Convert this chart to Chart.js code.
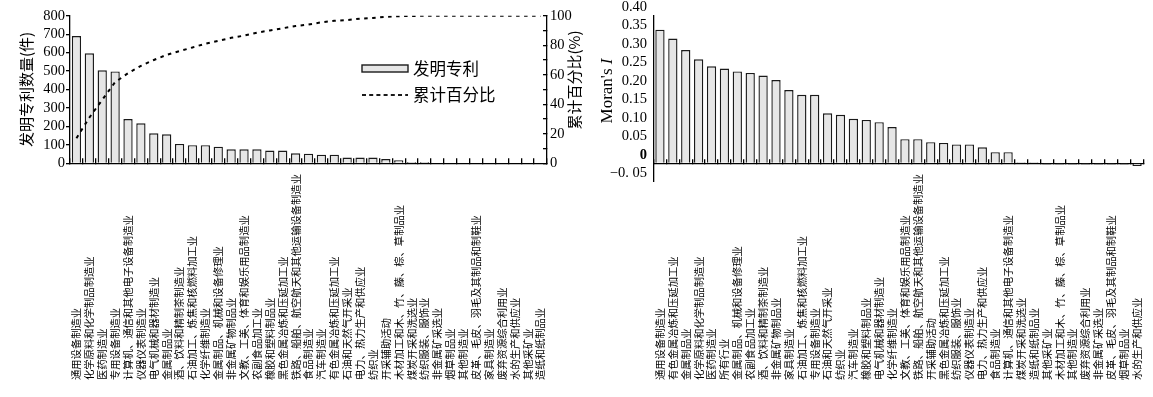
<!DOCTYPE html>
<html>
<head>
<meta charset="utf-8">
<script src="https://cdn.jsdelivr.net/npm/chart.js@4.4.1/dist/chart.umd.min.js"></script>
<style>
  html, body { margin: 0; padding: 0; background: #fff; }
  body { width: 1153px; height: 397px; position: relative; overflow: hidden; }
  #cA { position: absolute; left: 0; top: 0; }
  #cB { position: absolute; left: 592px; top: 0; }
</style>
</head>
<body>
<canvas id="cA" width="592" height="397"></canvas>
<canvas id="cB" width="561" height="397"></canvas>
<script>
// ---------------- data: left chart (patents) ----------------
const PATENT_CATEGORIES = [
  '通用设备制造业', '化学原料和化学制品制造业', '医药制造业', '专用设备制造业',
  '计算机、通信和其他电子设备制造业', '仪器仪表制造业', '电气机械和器材制造业', '金属制品业',
  '酒、饮料和精制茶制造业', '石油加工、炼焦和核燃料加工业', '化学纤维制造业', '金属制品、机械和设备修理业',
  '非金属矿物制品业', '文教、工美、体育和娱乐用品制造业', '农副食品加工业', '橡胶和塑料制品业',
  '黑色金属冶炼和压延加工业', '铁路、船舶、航空航天和其他运输设备制造业', '食品制造业', '汽车制造业',
  '有色金属冶炼和压延加工业', '石油和天然气开采业', '电力、热力生产和供应业', '纺织业',
  '开采辅助活动', '木材加工和木、竹、藤、棕、草制品业', '煤炭开采和洗选业', '纺织服装、服饰业',
  '非金属矿采选业', '烟草制品业', '其他制造业', '皮革、毛皮、羽毛及其制品和制鞋业',
  '家具制造业', '废弃资源综合利用业', '水的生产和供应业', '其他采矿业', '造纸和纸制品业'
];
const PATENT_COUNTS = [
  690, 596, 504, 498, 240, 217, 163, 157, 105, 98, 98, 90, 76, 76, 76, 69, 69, 54, 52,
  47, 47, 31, 31, 31, 23, 16, 7, 7, 0, 0, 0, 0, 0, 0, 0, 0, 0
];
const CUMULATIVE_PCT = [
  17, 31, 43, 55, 61, 66, 70, 73.5, 76, 78.5, 81, 83, 85, 86.5, 88.5, 90, 91.5, 93, 94,
  95.5, 96.5, 97, 98, 98.5, 99.3, 99.7, 99.8, 100, 100, 100, 100, 100, 100, 100, 100, 100, 100
];
const PATENT_LABEL = '发明专利';
const CUM_LABEL = '累计百分比';
const LEFT_Y_TITLE = '发明专利数量(件)';
const RIGHT_Y_TITLE = '累计百分比(%)';

// ---------------- data: right chart (Moran's I) ----------------
const MORAN_CATEGORIES = [
  '通用设备制造业', '有色金属冶炼和压延加工业', '金属制品业', '化学原料和化学制品制造业',
  '医药制造业', '所有行业', '金属制品、机械和设备修理业', '农副食品加工业',
  '酒、饮料和精制茶制造业', '非金属矿物制品业', '家具制造业', '石油加工、炼焦和核燃料加工业',
  '专用设备制造业', '石油和天然气开采业', '纺织业', '汽车制造业',
  '橡胶和塑料制品业', '电气机械和器材制造业', '化学纤维制造业', '文教、工美、体育和娱乐用品制造业',
  '铁路、船舶、航空航天和其他运输设备制造业', '开采辅助活动', '黑色金属冶炼和压延加工业', '纺织服装、服饰业',
  '仪器仪表制造业', '电力、热力生产和供应业', '食品制造业', '计算机、通信和其他电子设备制造业',
  '煤炭开采和洗选业', '造纸和纸制品业', '其他采矿业', '木材加工和木、竹、藤、棕、草制品业',
  '其他制造业', '废弃资源综合利用业', '非金属矿采选业', '皮革、毛皮、羽毛及其制品和制鞋业',
  '烟草制品业', '水的生产和供应业'
];
const MORAN_VALUES = [
  0.361, 0.337, 0.306, 0.281, 0.262, 0.256, 0.248, 0.244, 0.237, 0.225,
  0.198, 0.185, 0.185, 0.135, 0.131, 0.120, 0.117, 0.111, 0.098, 0.065,
  0.065, 0.057, 0.055, 0.051, 0.051, 0.043, 0.030, 0.030, 0.003, 0.003,
  -0.003, -0.003, -0.003, -0.003, -0.003, -0.003, -0.003, -0.007
];
const MORAN_TITLE_MAIN = "Moran's ";
const MORAN_TITLE_ITALIC = 'I';

// ---------------- styles ----------------
const BAR_FILL = '#e6e6e6';
const BAR_EDGE = '#1a1a1a';
const CJK = '"Noto Sans CJK SC", "Noto Sans", sans-serif';
const SERIF = '"Liberation Serif", "DejaVu Serif", serif';
Chart.defaults.color = '#000';
Chart.defaults.font.family = SERIF;

function categoryLabels(id, bottomY) {
  return {
    id,
    afterDraw(chart) {
      const ctx = chart.ctx, xs = chart.scales.x;
      ctx.save();
      ctx.font = '10.3px ' + CJK;
      ctx.fillStyle = '#000';
      ctx.textAlign = 'left';
      ctx.textBaseline = 'middle';
      chart.data.labels.forEach((lab, i) => {
        const x = xs.getPixelForValue(i);
        ctx.save();
        ctx.translate(x, bottomY);
        ctx.rotate(-Math.PI / 2);
        ctx.fillText(lab, 0, 0);
        ctx.restore();
      });
      ctx.restore();
    }
  };
}

const legendA = {
  id: 'legendA',
  afterDraw(chart) {
    const ctx = chart.ctx;
    const ds = chart.data.datasets;
    ctx.save();
    ctx.fillStyle = BAR_FILL;
    ctx.fillRect(362, 65, 46, 7);
    ctx.strokeStyle = BAR_EDGE;
    ctx.lineWidth = 1.4;
    ctx.strokeRect(362, 65, 46, 7);
    ctx.beginPath();
    ctx.setLineDash([4, 3.2]);
    ctx.lineWidth = 2;
    ctx.moveTo(362, 95);
    ctx.lineTo(408, 95);
    ctx.stroke();
    ctx.setLineDash([]);
    ctx.fillStyle = '#000';
    ctx.font = '16.5px ' + CJK;
    ctx.textAlign = 'left';
    ctx.textBaseline = 'middle';
    ctx.fillText(ds[1].label, 413, 68.5);
    ctx.fillText(ds[0].label, 413, 95);
    ctx.font = '15px ' + CJK;
    ctx.textAlign = 'center';
    ctx.translate(574, 80);
    ctx.rotate(-Math.PI / 2);
    ctx.fillText(RIGHT_Y_TITLE, 0, 0);
    ctx.restore();
  }
};

const moranTitle = {
  id: 'moranTitle',
  afterDraw(chart) {
    const ctx = chart.ctx;
    ctx.save();
    ctx.translate(16, 91);
    ctx.rotate(-Math.PI / 2);
    ctx.fillStyle = '#000';
    ctx.textBaseline = 'middle';
    ctx.textAlign = 'left';
    const fN = '17px ' + SERIF, fI = 'italic 17px ' + SERIF;
    ctx.font = fN; const w1 = ctx.measureText(MORAN_TITLE_MAIN).width;
    ctx.font = fI; const w2 = ctx.measureText(MORAN_TITLE_ITALIC).width;
    const x0 = -(w1 + w2) / 2;
    ctx.font = fN; ctx.fillText(MORAN_TITLE_MAIN, x0, 0);
    ctx.font = fI; ctx.fillText(MORAN_TITLE_ITALIC, x0 + w1, 0);
    ctx.restore();
  }
};

const tickFont = { family: SERIF, size: 14.5 };

// ---------------- chart A ----------------
new Chart(document.getElementById('cA'), {
  data: {
    labels: PATENT_CATEGORIES,
    datasets: [
      {
        type: 'line', label: CUM_LABEL, data: CUMULATIVE_PCT, yAxisID: 'y1',
        borderColor: '#000', borderWidth: 2, borderDash: [3.5, 4.5],
        pointRadius: 0, tension: 0, fill: false, order: 0
      },
      {
        type: 'bar', label: PATENT_LABEL, data: PATENT_COUNTS, yAxisID: 'y',
        backgroundColor: BAR_FILL, borderColor: BAR_EDGE, borderWidth: 1.4,
        barPercentage: 0.72, categoryPercentage: 1, order: 1
      }
    ]
  },
  options: {
    responsive: false, animation: false, devicePixelRatio: 1,
    layout: { padding: { left: 0, right: 0, top: 15, bottom: 0 } },
    plugins: { legend: { display: false }, tooltip: { enabled: false } },
    scales: {
      x: {
        type: 'category', position: 'bottom',
        ticks: { display: false, autoSkip: false },
        grid: { offset: true, drawOnChartArea: false, drawTicks: true, tickLength: -5, color: '#000', lineWidth: 1.3 },
        border: { display: true, color: '#000', width: 1.3 },
        afterFit(s) { s.height = 233.7; }
      },
      y: {
        position: 'left', min: 0, max: 800,
        ticks: { stepSize: 100, padding: 1, autoSkip: false, font: tickFont, color: '#000' },
        grid: { drawOnChartArea: false, drawTicks: true, tickLength: 4, color: '#000', lineWidth: 1.3 },
        border: { display: true, color: '#000', width: 1.3 },
        title: { display: true, text: LEFT_Y_TITLE, font: { family: CJK, size: 15 }, color: '#000', padding: { top: 17, bottom: 0 } },
        afterFit(s) { s.width = 70; }
      },
      y1: {
        position: 'right', min: 0, max: 100,
        ticks: { stepSize: 10, padding: 7, autoSkip: false, font: tickFont, color: '#000',
                 callback: (v) => (v % 20 === 0 ? String(v) : '') },
        grid: { drawOnChartArea: false, drawTicks: true, tickLength: -4, color: '#000', lineWidth: 1.3 },
        border: { display: true, color: '#000', width: 1.3 },
        afterFit(s) { s.width = 45; }
      }
    }
  },
  plugins: [categoryLabels('labelsA', 380), legendA]
});

// ---------------- chart B ----------------
new Chart(document.getElementById('cB'), {
  type: 'bar',
  data: {
    labels: MORAN_CATEGORIES,
    datasets: [{
      label: "Moran's I", data: MORAN_VALUES,
      backgroundColor: BAR_FILL, borderColor: BAR_EDGE, borderWidth: 1.4,
      barPercentage: 0.72, categoryPercentage: 1
    }]
  },
  options: {
    responsive: false, animation: false, devicePixelRatio: 1,
    layout: { padding: { left: 0, right: 9.5, top: 15, bottom: 215.2 } },
    plugins: { legend: { display: false }, tooltip: { enabled: false } },
    scales: {
      x: {
        type: 'category', axis: 'x', position: { y: 0 },
        ticks: { display: false, autoSkip: false },
        grid: { offset: true, drawOnChartArea: false, drawTicks: true, tickLength: -5, color: '#000', lineWidth: 1.3 },
        border: { display: true, color: '#000', width: 1.3 },
        afterFit(s) { s.height = 0; }
      },
      y: {
        position: 'left', min: -0.05, max: 0.40,
        ticks: {
          stepSize: 0.05, padding: 6.5, labelOffset: -8.4, autoSkip: false, color: '#000',
          font: (c) => ({ family: SERIF, size: 14.5,
                          weight: (c.tick && Math.abs(c.tick.value) < 1e-9) ? 'bold' : 'normal' }),
          callback: (v) => {
            if (Math.abs(v) < 1e-9) return '0';
            if (v < 0) return '−0. 05';
            return v.toFixed(2);
          }
        },
        grid: { drawOnChartArea: false, drawTicks: false },
        border: { display: true, color: '#000', width: 1.3 },
        afterFit(s) { s.width = 61.5; }
      }
    }
  },
  plugins: [categoryLabels('labelsB', 380), moranTitle]
});
</script>
</body>
</html>
